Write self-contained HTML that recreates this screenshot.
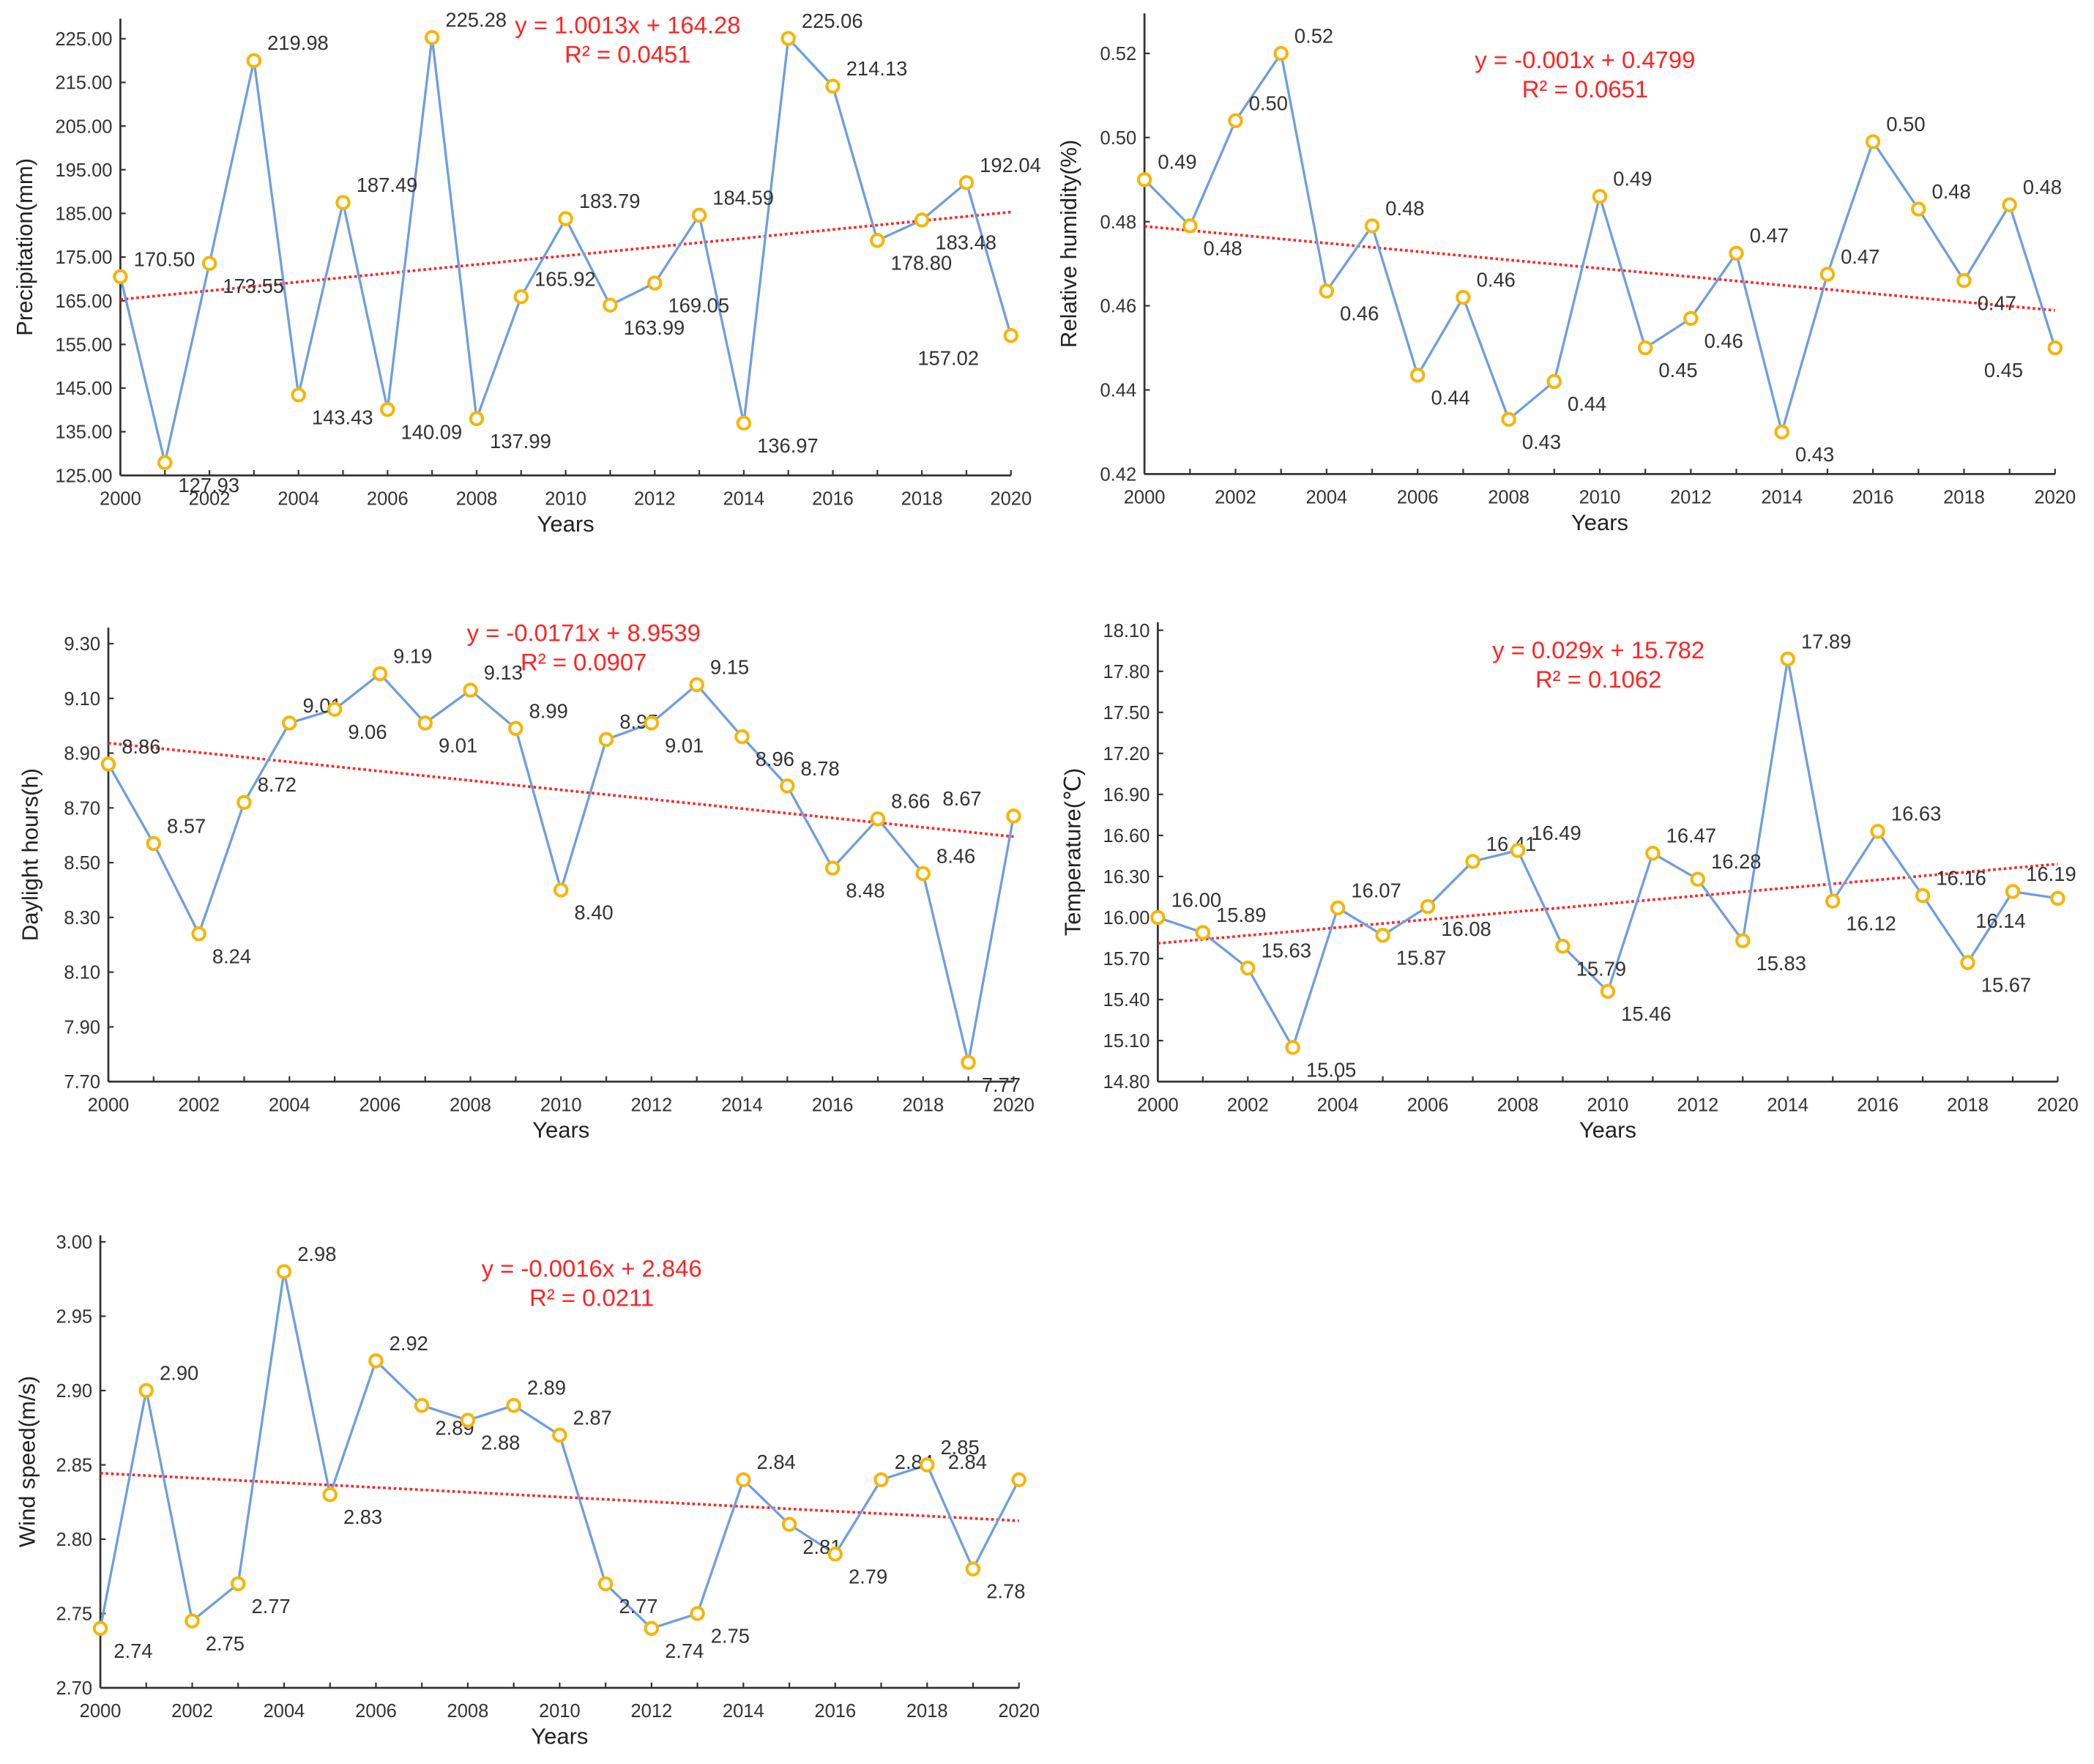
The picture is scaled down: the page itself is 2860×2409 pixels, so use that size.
<!DOCTYPE html>
<html><head><meta charset="utf-8"><style>
html,body{margin:0;padding:0;background:#fff;}
svg{display:block;font-family:"Liberation Sans",sans-serif;}
</style></head><body>
<svg id="root" width="2860" height="2409" viewBox="0 0 1568 1321" xmlns="http://www.w3.org/2000/svg"></svg>
<script>
const years = [2000,2001,2002,2003,2004,2005,2006,2007,2008,2009,2010,2011,2012,2013,2014,2015,2016,2017,2018,2019,2020];
const precipValues = [170.50,127.93,173.55,219.98,143.43,187.49,140.09,225.28,137.99,165.92,183.79,163.99,169.05,184.59,136.97,225.06,214.13,178.80,183.48,192.04,157.02];
const precipTicks = [125,135,145,155,165,175,185,195,205,215,225];
const precipTrend = [1.0013,164.28];
const humidValues = [0.490,0.479,0.504,0.520,0.4635,0.479,0.4435,0.462,0.433,0.442,0.486,0.450,0.457,0.4725,0.430,0.4675,0.499,0.483,0.466,0.484,0.450];
const humidTicks = [0.42,0.44,0.46,0.48,0.50,0.52];
const humidTrend = [-0.001,0.4799];
const dayValues = [8.86,8.57,8.24,8.72,9.01,9.06,9.19,9.01,9.13,8.99,8.40,8.95,9.01,9.15,8.96,8.78,8.48,8.66,8.46,7.77,8.67];
const dayTicks = [7.70,7.90,8.10,8.30,8.50,8.70,8.90,9.10,9.30];
const dayTrend = [-0.0171,8.9539];
const tempValues = [16.00,15.89,15.63,15.05,16.07,15.87,16.08,16.41,16.49,15.79,15.46,16.47,16.28,15.83,17.89,16.12,16.63,16.16,15.67,16.19,16.14];
const tempTicks = [14.80,15.10,15.40,15.70,16.00,16.30,16.60,16.90,17.20,17.50,17.80,18.10];
const tempTrend = [0.029,15.782];
const windValues = [2.74,2.90,2.745,2.77,2.98,2.83,2.92,2.89,2.88,2.89,2.87,2.77,2.74,2.75,2.84,2.81,2.79,2.84,2.85,2.78,2.84];
const windTicks = [2.70,2.75,2.80,2.85,2.90,2.95,3.00];
const windTrend = [-0.0016,2.846];

const NS="http://www.w3.org/2000/svg";
const root=document.getElementById('root');
function mk(tag,attrs,parent){const e=document.createElementNS(NS,tag);for(const k in attrs)e.setAttribute(k,attrs[k]);parent.appendChild(e);return e;}

function chart(cfg){
  const g=mk('g',{},root);
  
  
  const x=i=>cfg.x0+(cfg.x1-cfg.x0)*(years[i]-2000)/20;
  const ymin=cfg.ticks[0],ymax=cfg.ticks[cfg.ticks.length-1];
  const y=v=>cfg.yb+(cfg.yt-cfg.yb)*(v-ymin)/(ymax-ymin);
  // axes
  const ya=mk('line',{x1:cfg.x0,y1:cfg.top,x2:cfg.x0,y2:cfg.yb,stroke:'#333','stroke-width':1.5},g);
  
  
  const xa=mk('line',{x1:cfg.x0,y1:cfg.yb,x2:cfg.x1,y2:cfg.yb,stroke:'#333','stroke-width':1.5},g);
  
  
  cfg.ticks.forEach(t=>{
    mk('line',{x1:cfg.x0,y1:y(t),x2:cfg.x0+4,y2:y(t),stroke:'#333','stroke-width':1.2},g);
    const tl=mk('text',{x:cfg.x0-6,y:y(t)+5,'text-anchor':'end','font-size':14,fill:'#333'},g);
    tl.textContent=t.toFixed(2);
    
    
  });
  years.forEach((yr,i)=>{
    mk('line',{x1:x(i),y1:cfg.yb,x2:x(i),y2:cfg.yb-4,stroke:'#333','stroke-width':1.2},g);
    if(yr%2===0){
      const tl=mk('text',{x:x(i),y:cfg.yb+22,'text-anchor':'middle','font-size':14,fill:'#333'},g);
      tl.textContent=yr;
      
      
    }
  });
  const xt=mk('text',{x:(cfg.x0+cfg.x1)/2,y:cfg.yb+42,'text-anchor':'middle','font-size':17,fill:'#222'},g);
  xt.textContent='Years';
  
  
  const yc=(cfg.top+cfg.yb)/2;
  const yt=mk('text',{x:cfg.ytx,y:yc,'text-anchor':'middle','font-size':17,fill:'#222',transform:`rotate(-90 ${cfg.ytx} ${yc})`},g);
  yt.textContent=cfg.title;
  
  
  // trend
  const tr=mk('line',{x1:x(0),y1:y(cfg.trend[0]*1+cfg.trend[1]),x2:x(20),y2:y(cfg.trend[0]*21+cfg.trend[1]),stroke:'#f22','stroke-width':2,'stroke-dasharray':'2 2'},g);
  
  
  // line
  const pts=cfg.values.map((v,i)=>x(i)+','+y(v)).join(' ');
  const pl=mk('polyline',{points:pts,fill:'none',stroke:'#6d9ee0','stroke-width':1.8},g);
  
  
  cfg.values.forEach((v,i)=>{
    const c=mk('circle',{cx:x(i),cy:y(v),r:4.5,fill:'#fff',stroke:'#f7b500','stroke-width':2.2},g);
    
    
    const prev=i>0?cfg.values[i-1]:v, next=i<20?cfg.values[i+1]:v;
    const up=v>=(prev+next)/2;
    const lt=mk('text',{x:x(i)+(i===20?-24:10),y:y(v)+(up?-8:22),'text-anchor':i===20?'end':'start','font-size':15,fill:'#333'},g);
    lt.textContent=v.toFixed(2);
    
    
  });
  const a=cfg.trend[0],b=cfg.trend[1];
  const e1=mk('text',{x:cfg.eqx,y:cfg.eqy,'text-anchor':'middle','font-size':18,fill:'#f22'},g);
  e1.textContent='y = '+(a<0?'-':'')+Math.abs(a)+'x + '+b;
  
  
  const e2=mk('text',{x:cfg.eqx,y:cfg.eqy+22,'text-anchor':'middle','font-size':18,fill:'#f22'},g);
  e2.textContent='R² = '+cfg.r2;
  
  
}

chart({name:'precipitation-chart',values:precipValues,ticks:precipTicks,trend:precipTrend,r2:'0.0451',title:'Precipitation(mm)',x0:90,x1:757,top:14,yt:29,yb:356,ytx:24,eqx:470,eqy:25});
chart({name:'humidity-chart',values:humidValues,ticks:humidTicks,trend:humidTrend,r2:'0.0651',title:'Relative humidity(%)',x0:857,x1:1539,top:10,yt:40,yb:355,ytx:806,eqx:1187,eqy:51});
chart({name:'daylight-chart',values:dayValues,ticks:dayTicks,trend:dayTrend,r2:'0.0907',title:'Daylight hours(h)',x0:81,x1:759,top:470,yt:482,yb:810,ytx:28,eqx:437,eqy:480});
chart({name:'temperature-chart',values:tempValues,ticks:tempTicks,trend:tempTrend,r2:'0.1062',title:'Temperature(℃)',x0:867,x1:1541,top:466,yt:472,yb:810,ytx:809,eqx:1197,eqy:493});
chart({name:'wind-speed-chart',values:windValues,ticks:windTicks,trend:windTrend,r2:'0.0211',title:'Wind speed(m/s)',x0:75,x1:763,top:925,yt:930,yb:1264,ytx:26,eqx:443,eqy:956});
</script>
</body></html>
